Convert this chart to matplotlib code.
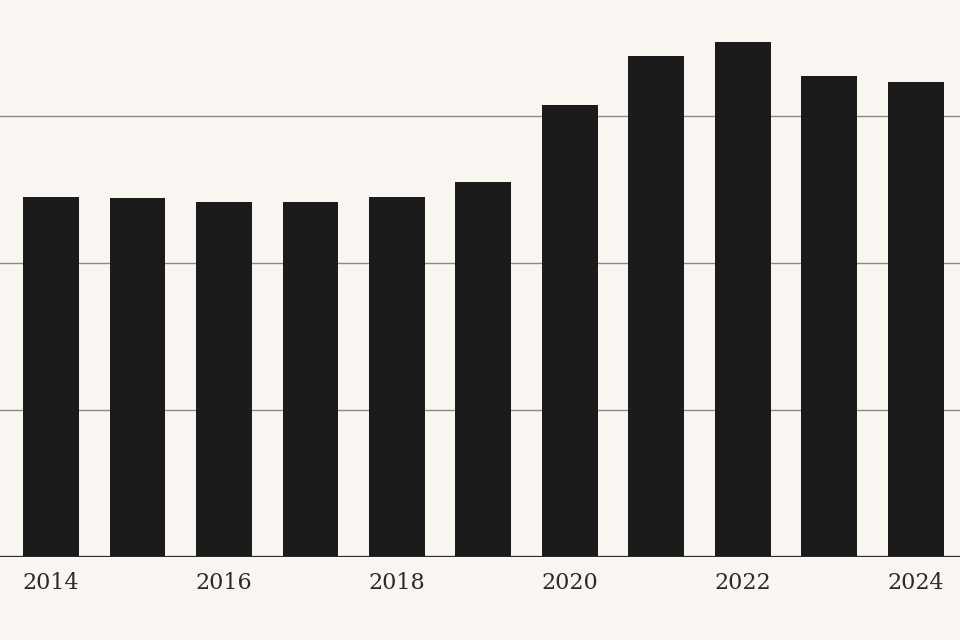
import matplotlib
matplotlib.use('Agg')
import matplotlib.pyplot as plt

years = [2014, 2015, 2016, 2017, 2018, 2019, 2020, 2021, 2022, 2023, 2024]
values = [24.5, 24.4, 24.15, 24.15, 24.5, 25.5, 30.75, 34.1, 35.05, 32.7, 32.3]
tick_years = [2014, 2016, 2018, 2020, 2022, 2024]
grid_levels = [10, 20, 30]

bg = '#f9f6f1'
fig = plt.figure(figsize=(9.6, 6.4), dpi=100, facecolor=bg)
ax = fig.add_axes([0, 1 - 557 / 640, 1, 557 / 640])
ax.set_facecolor(bg)

for g in grid_levels:
    ax.axhline(g, color='#8a8a8a', linewidth=1.0, zorder=1)
ax.axhline(0, color='#2a2a2a', linewidth=1.6, zorder=3)

ax.bar(years, values, width=0.647, color='#1b1b1b', zorder=2)

ax.set_xlim(2013.41, 2024.51)
ax.set_ylim(0, 557 / 14.7)
ax.set_xticks(tick_years)
ax.set_xticklabels([str(y) for y in tick_years], fontsize=16,
                   family='DejaVu Serif', color='#2a2a2a')
ax.tick_params(axis='x', length=0, pad=11)
ax.set_yticks([])
for s in ax.spines.values():
    s.set_visible(False)

fig.savefig('out.png', dpi=100, facecolor=bg)
